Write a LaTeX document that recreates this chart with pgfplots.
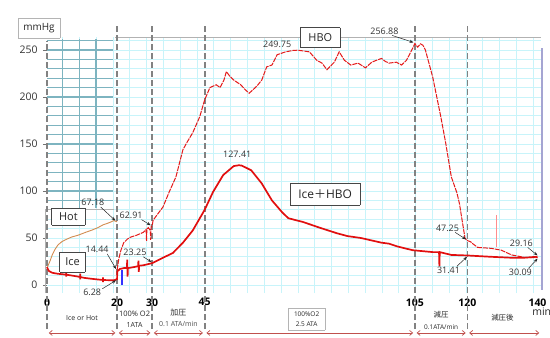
\documentclass[border=0pt]{standalone}
\usepackage{fontspec}
\setmainfont{Open Sans}
\newfontfamily\cjk{Noto Sans CJK JP}
\usepackage{pgfplots}
\pgfplotsset{compat=1.18}
\usetikzlibrary{arrows.meta}
\definecolor{hbored}{RGB}{228,25,25}
\definecolor{icered}{RGB}{225,15,15}
\definecolor{hotc}{RGB}{210,140,80}
\definecolor{gridminor}{RGB}{200,244,250}
\definecolor{gridmajor}{RGB}{125,230,245}
\definecolor{tealgrid}{RGB}{125,180,192}
\definecolor{dashgray}{RGB}{130,130,130}
\definecolor{arrred}{RGB}{192,80,77}
\definecolor{lav}{RGB}{165,165,210}
\definecolor{boxdark}{RGB}{70,70,70}
\definecolor{boxlight}{RGB}{180,180,180}
\tikzset{
  ann/.style={font=\fontsize{9}{10}\selectfont, text=black!80, inner sep=1pt},
  annarr/.style={-{Stealth[length=4bp,width=3bp]}, black!85, line width=0.5bp},
  tiny/.style={font=\fontsize{7}{8}\selectfont, text=black!85, inner sep=0.5pt},
  phasearr/.style={arrred, line width=0.7bp, {Straight Barb[length=3bp,width=5bp]}-{Straight Barb[length=3bp,width=5bp]}},
}
% box in axis units: x1, x2, y1, y2, border colour, border width
\newcommand\abox[6]{%
  \fill[white] (axis cs:#1,#3) -- (axis cs:#2,#3) -- (axis cs:#2,#4) -- (axis cs:#1,#4) -- cycle;
  \draw[draw=#5, line width=#6] (axis cs:#1,#3) -- (axis cs:#2,#3);
  \draw[draw=#5, line width=#6] (axis cs:#2,#3) -- (axis cs:#2,#4);
  \draw[draw=#5, line width=#6] (axis cs:#2,#4) -- (axis cs:#1,#4);
  \draw[draw=#5, line width=#6] (axis cs:#1,#4) -- (axis cs:#1,#3);
}
\pgfplotsset{
  base/.style={
    at={(0,0)}, anchor=south west, scale only axis,
    width=494bp, height=256bp,
    xmin=0, xmax=141, ymin=-8.5, ymax=263.8,
    axis line style={draw=none},
  }
}
\begin{document}
\begin{tikzpicture}
\path[use as bounding box] (-47bp,-45bp) rectangle (503bp,293bp);
% grid axis
\begin{axis}[base,
  xtick={-0.4,4.4,...,141}, ytick={0,10,...,260},
  xticklabels={}, yticklabels={},
  tick style={draw=none},
  grid=major, major grid style={gridminor, line width=0.7bp},
  extra x ticks={18.8,38,57.2,76.4,95.6,114.8,134},
  extra y ticks={0,50,...,250},
  extra x tick labels={}, extra y tick labels={},
  extra tick style={grid style={gridmajor, line width=1.1bp}, tick style={draw=none}},
]
\addplot[draw=none] coordinates {(0,0)};
\end{axis}
% data axis
\begin{axis}[base, clip=false,
  xtick={0,20,30,45,105,120,140},
  ytick={0,50,...,250},
  xtick style={draw=none},
  ytick pos=left, tick align=outside,
  ytick style={draw=black!55, line width=0.5bp},
  major tick length=4bp,
  /pgf/number format/assume math mode=true,
  xticklabel style={font=\bfseries\fontsize{10.5}{12}\selectfont, text=black, yshift=2bp},
  yticklabel style={font=\fontsize{10.5}{12}\selectfont, text=black!80, xshift=-2bp},
]
% dark teal grid in the 0-20 upper region
\pgfplotsinvokeforeach{4.4,9.2,14}{\draw[tealgrid, line width=1.2bp] (axis cs:#1,82) -- (axis cs:#1,262);}
\pgfplotsinvokeforeach{90,100,...,260}{\draw[tealgrid, line width=1.1bp] (axis cs:0,#1) -- (axis cs:18.8,#1);}
% inset border
\draw[black!30, line width=0.6bp] (axis cs:-0.6,-8.5) -- (axis cs:-0.6,80) -- (axis cs:19,80);
% top border and right border
\draw[black!30, line width=0.8bp] (axis cs:19.5,263.8) -- (axis cs:141,263.8);
\draw[lav, line width=2bp] (axis cs:141.3,252) -- (axis cs:141.3,-5);
% dashed phase lines
\draw[dashgray, line width=1.8bp, dash pattern=on 6bp off 3bp] (axis cs:0,-47) -- (axis cs:0,260);
\pgfplotsinvokeforeach{20,30,45,105,120}{\draw[dashgray, line width=1.8bp, dash pattern=on 6bp off 3bp] (axis cs:#1,-47) -- (axis cs:#1,277);}

% Hot
\addplot[hotc, line width=0.9bp] coordinates {
(0,18) (0.8,25) (1.5,32) (2.3,38) (3.1,42.5) (4.2,46) (5.2,48) (7,51) (8.9,53) (11,56) (12.9,58.5) (14.5,61) (16,64) (17.2,65.5) (18.2,67) (19,68.5) (19.5,68) (20,67.18)};
% light spike
\addplot[red!45, line width=0.8bp] coordinates {(128.2,40) (128.2,74)};
% HBO
\addplot[hbored, line width=1bp, dash pattern=on 5bp off 1bp] coordinates {
(20,16) (20.5,28) (21.1,37) (21.9,45) (23,49) (23.9,51) (25.6,53) (27.5,56) (28.3,59) (28.4,47) (28.5,59) (28.9,61) (29.5,58) (29.6,48) (29.7,62) (30,62.91)
(30.3,69) (31.5,75) (33.1,83) (35,100) (36.8,115) (38.8,144) (40,152) (41.6,162) (43.6,179) (45,197) (46.5,210) (48.3,213) (49.4,210) (50.5,218) (51.2,227) (52.2,222) (53.3,218) (55.3,213) (56.5,208) (57.7,204) (58.6,207) (60,212) (61.3,218) (62.7,232) (64.2,234) (65.7,245) (68.1,248) (70.2,249.5) (71.5,249.75) (73.1,249) (74.9,248) (77,239) (78.5,236) (79.9,229) (82,237) (83.4,248) (84.9,239) (86.7,234) (88.8,236) (90.9,231) (92.7,237) (94,239) (95.5,241) (96.5,238) (97.6,236) (99.7,237) (101.2,234) (102.6,239) (104.4,252) (105,256.88) (105.8,253) (106.6,256.5) (107.3,255) (108,250) (110.1,221) (112.4,179) (113.8,151) (115.4,115) (117,98) (117.7,87) (119.3,50) (120,47.25) (120.9,46) (121.5,44) (122.9,40) (126.8,39) (129.7,37) (132.6,32) (136.8,29) (140,29.16)};
% blue segment
\addplot[blue!80, line width=1.2bp] coordinates {(21.4,0) (21.4,16)};
% Ice + HBO
\addplot[icered, line width=1.7bp] coordinates {
(0,19) (0.5,15) (1.5,13) (3,12) (5.5,11) (5.5,14) (5.5,9) (5.5,11) (8,9.5) (9.5,8.5) (9.5,12) (9.5,6) (9.5,8.5) (10.8,7.5) (13,6.5) (16,5.3) (16,8) (16,3) (16,5.3) (19.1,5) (20,6.28) (20.05,14.44) (20.8,17) (21.9,18) (22.8,18) (22.9,27) (23,9) (23.1,18) (24.7,19) (26,20) (26.1,26) (26.2,14) (26.3,20.5) (27.5,21) (30,23.25) (31.5,26) (33.1,29) (35.9,34) (38.8,45) (41.6,58) (45,80) (47.4,99) (50.3,117) (53.3,126.5) (54.8,127.41) (55.6,127) (58.3,122) (61.3,108) (64.2,90) (67.2,77) (68.9,71) (73.1,67) (77.8,61) (82.8,55) (85.8,52) (89.6,50) (95.5,45) (97.6,44) (100,41) (104.4,37) (110.1,35) (111.9,35) (112,20) (112.1,35) (115.4,32) (120,31.41) (126.8,30) (132.6,29) (136,29) (140,30.09)};

% boxes
\abox{-8.3}{3.7}{262.8}{284}{boxlight}{0.8bp}
\node[font=\fontsize{10}{12}\selectfont, text=black!85] at (axis cs:-2.3,273.4) {mmHg};
\abox{72.3}{83.7}{252.1}{273.4}{boxdark}{1bp}
\node[font=\fontsize{11}{13}\selectfont, text=black!85] at (axis cs:78,262.8) {HBO};
\abox{69.4}{89.4}{85.1}{108.5}{boxdark}{1bp}
\node[font=\fontsize{12}{14}\selectfont, text=black!85] at (axis cs:79.4,96.8) {Ice{\cjk ＋}HBO};
\abox{1.4}{10.9}{63.8}{81.9}{boxdark}{1bp}
\node[font=\fontsize{11}{13}\selectfont, text=black!85] at (axis cs:6.1,72.9) {Hot};
\abox{3.7}{10.9}{13.8}{35.1}{boxdark}{1bp}
\node[font=\fontsize{11}{13}\selectfont, text=black!85] at (axis cs:7.3,24.5) {Ice};

% value annotations
\node[ann] at (axis cs:13.1,87.5) {67.18};
\draw[annarr] (axis cs:15.3,83) -- (axis cs:19.5,68.5);
\node[ann] at (axis cs:14.3,37.5) {14.44};
\draw[annarr] (axis cs:17.2,33) -- (axis cs:19.7,17);
\node[ann] at (axis cs:12.9,-7.4) {6.28};
\draw[annarr] (axis cs:15.8,-4) -- (axis cs:19.7,5);
\node[ann] at (axis cs:24,74.5) {62.91};
\draw[annarr] (axis cs:27,69.5) -- (axis cs:29.6,63.5);
\node[ann] at (axis cs:25.1,34.5) {23.25};
\draw[annarr] (axis cs:27.5,30) -- (axis cs:29.8,24.5);
\node[ann] at (axis cs:54.3,138.5) {127.41};
\node[ann] at (axis cs:65.7,256.4) {249.75};
\node[ann] at (axis cs:96.3,270.2) {256.88};
\draw[annarr] (axis cs:98.5,265.5) -- (axis cs:104.6,258);
\node[ann] at (axis cs:114.3,60.6) {47.25};
\draw[annarr] (axis cs:116.5,56) -- (axis cs:119.6,48.5);
\node[ann] at (axis cs:114.6,16) {31.41};
\draw[annarr] (axis cs:117,20) -- (axis cs:119.9,30);
\node[ann] at (axis cs:135.4,44.7) {29.16};
\draw[annarr] (axis cs:137.2,40) -- (axis cs:140,31.5);
\node[ann] at (axis cs:135.1,13.8) {30.09};
\draw[annarr] (axis cs:137.5,18) -- (axis cs:140,28);

% min label
\node[font=\fontsize{10.5}{12}\selectfont, text=black!85] at (axis cs:141.2,-28.7) {min};

% phase labels
\node[tiny] at (axis cs:10,-35) {Ice or Hot};
\node[tiny, font=\fontsize{7.5}{8}\selectfont] at (axis cs:25,-30.9) {100\% O2};
\node[tiny] at (axis cs:25,-42.6) {1ATA};
\node[tiny, font=\cjk\fontsize{8}{9}\selectfont] at (axis cs:37.5,-29.8) {加圧};
\node[tiny, text=black!70] at (axis cs:37.5,-41.5) {0.1 ATA/min};
\abox{68.9}{79.4}{-47.9}{-24.5}{boxlight}{0.7bp}
\node[inner sep=0pt, align=center, font=\fontsize{6.5}{10}\selectfont, text=black!85] at (axis cs:74.1,-36.2) {100\%O2\\2.5 ATA};
\node[tiny, font=\cjk\fontsize{7.5}{9}\selectfont] at (axis cs:112.5,-31.9) {減圧};
\node[tiny, font=\fontsize{6.5}{8}\selectfont] at (axis cs:112.5,-44.7) {0.1ATA/min};
\node[tiny, font=\cjk\fontsize{7.5}{9}\selectfont] at (axis cs:130,-35) {減圧後};

% phase arrows
\draw[phasearr] (axis cs:0.5,-51) -- (axis cs:19.5,-51);
\draw[phasearr] (axis cs:20.5,-51) -- (axis cs:29.5,-51);
\draw[phasearr] (axis cs:30.5,-51) -- (axis cs:44.5,-51);
\draw[phasearr] (axis cs:45.5,-51) -- (axis cs:104.5,-51);
\draw[phasearr] (axis cs:105.5,-51) -- (axis cs:119.5,-51);
\draw[phasearr] (axis cs:120.5,-51) -- (axis cs:140.5,-51);
\end{axis}
\end{tikzpicture}
\end{document}
